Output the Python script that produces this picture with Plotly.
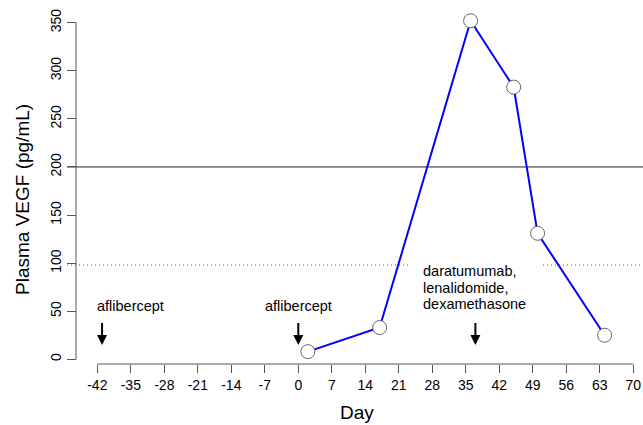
import plotly.graph_objects as go

# ---- data ----
days = [2, 17, 36, 45, 50, 64]
vegf = [8, 33, 352, 283, 131, 25]
x_ticks = list(range(-42, 71, 7))
y_ticks = [0, 50, 100, 150, 200, 250, 300, 350]
upper_limit = 200          # solid reference line
normal_level = 98          # dotted reference line
arrow_days = [-41, 0, 37]
arrow_labels = [["aflibercept"], ["aflibercept"],
                ["daratumumab,", "lenalidomide,", "dexamethasone"]]

FONT = "Liberation Sans, Arial, sans-serif"
W, H = 643, 425
ML, MR, MT, MB = 67, 0, 0, 52
pw, ph = W - ML - MR, H - MT - MB

# pixel <-> data helpers (layout only)
X0_PX, X_SCALE = 298.3, 4.786      # day 0 pixel, px per day
Y0_PX, Y_SCALE = 359.3, 0.9617     # value 0 pixel, px per unit
def xd(px): return (px - X0_PX) / X_SCALE
def yd(py): return (Y0_PX - py) / Y_SCALE
def xp(px): return (px - ML) / pw
def yp(py): return (MT + ph - py) / ph

xr = [xd(ML), xd(W - MR)]
yr = [yd(MT + ph), yd(MT)]

fig = go.Figure()
fig.add_trace(go.Scatter(
    x=days, y=vegf, mode="lines+markers",
    line=dict(color="#0000ff", width=2),
    marker=dict(size=14, color="white", line=dict(color="#666666", width=1)),
    showlegend=False, cliponaxis=False, hoverinfo="skip"))

shapes = []
shapes.append(dict(type="line", xref="paper", yref="y", x0=0, x1=1,
                   y0=upper_limit, y1=upper_limit,
                   line=dict(color="#222222", width=1), layer="below"))
shapes.append(dict(type="line", xref="paper", yref="y", x0=0, x1=1,
                   y0=normal_level, y1=normal_level,
                   line=dict(color="#555555", width=1, dash="1px,3px"), layer="below"))
shapes.append(dict(type="rect", xref="x", yref="y", x0=xd(410), x1=xd(541.7),
                   y0=yd(272), y1=yd(258), fillcolor="white",
                   line=dict(width=0), layer="below"))
shapes.append(dict(type="line", xref="x", yref="y", x0=xd(76), x1=xd(76),
                   y0=y_ticks[0], y1=y_ticks[-1],
                   line=dict(color="#555555", width=1)))
shapes.append(dict(type="line", xref="x", yref="y", x0=x_ticks[0], x1=x_ticks[-1],
                   y0=yd(364), y1=yd(364),
                   line=dict(color="#555555", width=1)))

annotations = []
for d in arrow_days:
    annotations.append(dict(x=d, y=yd(345), ax=d, ay=yd(321.5),
                            xref="x", yref="y", axref="x", ayref="y",
                            text="", showarrow=True, arrowhead=2,
                            arrowsize=1, arrowwidth=2, arrowcolor="black"))
annotations.append(dict(x=xd(130.8), y=yd(305.7), xref="x", yref="y",
                        text=arrow_labels[0][0], showarrow=False,
                        xanchor="center", yanchor="middle",
                        font=dict(family=FONT, size=14.5, color="black")))
annotations.append(dict(x=arrow_days[1], y=yd(305.7), xref="x", yref="y",
                        text=arrow_labels[1][0], showarrow=False,
                        xanchor="center", yanchor="middle",
                        font=dict(family=FONT, size=14.5, color="black")))
for i, line in enumerate(arrow_labels[2]):
    annotations.append(dict(x=xd(420.7), y=yd(270.7 + 16.8 * i), xref="x", yref="y",
                            text=line, showarrow=False,
                            xanchor="left", yanchor="middle",
                            font=dict(family=FONT, size=14.5, color="black")))
annotations.append(dict(x=xp(357), y=yp(412), xref="paper", yref="paper", text="Day",
                        showarrow=False, xanchor="center", yanchor="middle",
                        font=dict(family=FONT, size=19, color="black")))
annotations.append(dict(x=xp(22), y=yp(200), xref="paper", yref="paper",
                        text="Plasma VEGF (pg/mL)", textangle=-90,
                        showarrow=False, xanchor="center", yanchor="middle",
                        font=dict(family=FONT, size=19, color="black")))

fig.update_layout(
    template="none",
    width=W, height=H,
    margin=dict(l=ML, r=MR, t=MT, b=MB, pad=0, autoexpand=False),
    paper_bgcolor="white", plot_bgcolor="white",
    font=dict(family=FONT, size=14, color="black"),
    shapes=shapes, annotations=annotations, showlegend=False,
    xaxis=dict(range=xr, tickvals=x_ticks, ticktext=[str(v) for v in x_ticks],
               ticks="outside", ticklen=8, tickcolor="#555555",
               showgrid=False, zeroline=False, showline=False, automargin=False,
               anchor="free", position=(373 - 364) / ph,
               tickfont=dict(family=FONT, size=14)),
    yaxis=dict(range=yr, tickvals=y_ticks,
               ticks="outside", ticklen=9, tickcolor="#555555",
               showgrid=False, zeroline=False, showline=False, automargin=False,
               anchor="free", position=(76 - ML) / pw, tickangle=-90,
               tickfont=dict(family=FONT, size=14)),
)

fig.write_html("out.html", config={"displayModeBar": False, "staticPlot": True},
               post_script="document.body.style.margin='0';document.body.style.padding='0';")
